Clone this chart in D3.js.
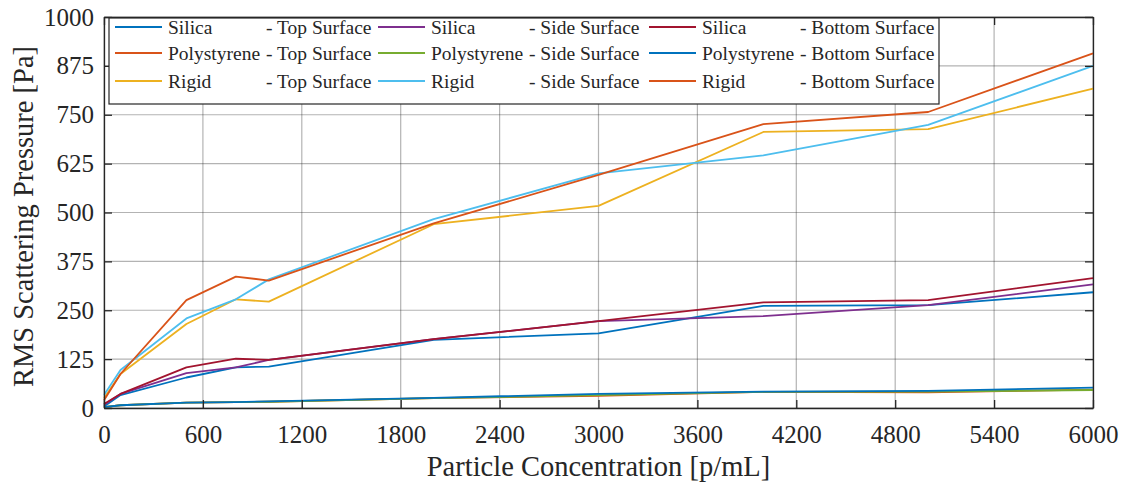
<!DOCTYPE html>
<html><head><meta charset="utf-8">
<script src="https://cdn.jsdelivr.net/npm/d3@7"></script>
<style>body{margin:0;background:#fff}svg{display:block}svg text{font-family:"Liberation Serif","Times New Roman","DejaVu Serif",serif !important;fill:#262626}</style>
</head><body><svg id="c" width="1125" height="486"></svg>
<script>
const concentration = [0, 100, 500, 800, 1000, 2000, 3000, 4000, 5000, 6000];
const xTicks = [0, 600, 1200, 1800, 2400, 3000, 3600, 4200, 4800, 5400, 6000];
const yTicks = [0, 125, 250, 375, 500, 625, 750, 875, 1000];
const materials = ["Silica", "Polystyrene", "Rigid"];
const surfaces = ["Top Surface", "Side Surface", "Bottom Surface"];

const silicaTop     = [4, 33, 78, 104, 106, 174, 191, 261, 263, 296];
const polyTop       = [2, 7, 14, 15, 16, 25, 31, 41, 40, 47];
const rigidTop      = [25, 87, 215, 278, 272, 470, 517, 706, 713, 817];
const silicaSide    = [8, 36, 89, 104, 123, 176, 222, 235, 263, 316];
const polySide      = [2, 7, 14, 15, 16, 25, 33, 41, 42, 46];
const rigidSide     = [33, 97, 229, 278, 329, 483, 600, 646, 724, 875];
const silicaBottom  = [10, 36, 104, 126, 123, 176, 222, 270, 276, 332];
const polyBottom    = [2, 7, 14, 15, 17, 26, 36, 42, 44, 52];
const rigidBottom   = [20, 87, 276, 336, 326, 472, 596, 726, 757, 907];

const colors = ["#0072BD","#D95319","#EDB120","#7E2F8E","#77AC30","#4DBEEE","#A2142F","#0072BD","#D95319"];
const seriesValues = [silicaTop, polyTop, rigidTop, silicaSide, polySide, rigidSide, silicaBottom, polyBottom, rigidBottom];
const series = seriesValues.map((v, i) => ({
  material: materials[i % 3], surface: surfaces[Math.floor(i / 3)], values: v, color: colors[i]
}));

const FONT = '"Liberation Serif", "Times New Roman", serif';
const svg = d3.select("#c");
const L = 104, R = 1093, T = 17, B = 408;
const x = d3.scaleLinear().domain([0, 6000]).range([L, R]);
const y = d3.scaleLinear().domain([0, 1000]).range([B, T]);

// grid
const g = svg.append("g");
g.selectAll(".gx").data(xTicks).join("line")
  .attr("x1", d => x(d)).attr("x2", d => x(d)).attr("y1", T).attr("y2", B)
  .attr("stroke", "#262626").attr("stroke-opacity", 0.35).attr("stroke-width", 1.2);
g.selectAll(".gy").data(yTicks).join("line")
  .attr("y1", d => y(d)).attr("y2", d => y(d)).attr("x1", L).attr("x2", R)
  .attr("stroke", "#262626").attr("stroke-opacity", 0.35).attr("stroke-width", 1.2);

// lines
const line = d3.line().x((d, i) => x(concentration[i])).y(d => y(d));
svg.append("g").selectAll("path").data(series).join("path")
  .attr("d", d => line(d.values)).attr("fill", "none")
  .attr("stroke", d => d.color).attr("stroke-width", 1.8).attr("stroke-linejoin", "round");

// axes
const axB = svg.append("g").attr("transform", `translate(0,${B})`)
  .call(d3.axisBottom(x).tickValues(xTicks).tickSizeInner(-8).tickSizeOuter(0).tickPadding(17).tickFormat(d3.format("d")));
const axL = svg.append("g").attr("transform", `translate(${L},0)`)
  .call(d3.axisLeft(y).tickValues(yTicks).tickSizeInner(-8).tickSizeOuter(0).tickPadding(10).tickFormat(d3.format("d")));
const axT = svg.append("g").attr("transform", `translate(0,${T})`)
  .call(d3.axisTop(x).tickValues(xTicks).tickSizeInner(-8).tickSizeOuter(0).tickFormat(""));
const axR = svg.append("g").attr("transform", `translate(${R},0)`)
  .call(d3.axisRight(y).tickValues(yTicks).tickSizeInner(-8).tickSizeOuter(0).tickFormat(""));
[axB, axL, axT, axR].forEach(a => {
  a.attr("font-family", FONT);
  a.select(".domain").attr("stroke", "#262626").attr("stroke-width", 1.3);
  a.selectAll(".tick line").attr("stroke", "#262626").attr("stroke-width", 1.3);
  a.selectAll(".tick text").attr("font-size", 25).attr("fill", "#262626").attr("font-family", FONT);
});

// axis labels
svg.append("text").attr("x", (L + R) / 2).attr("y", 476).attr("text-anchor", "middle")
  .attr("font-family", FONT).attr("font-size", 28.5).text("Particle Concentration [p/mL]");
svg.append("text").attr("transform", `translate(33,${(T + B) / 2 + 4}) rotate(-90)`).attr("text-anchor", "middle")
  .attr("font-family", FONT).attr("font-size", 28.5).text("RMS Scattering Pressure [Pa]");

// legend
const lg = svg.append("g").attr("font-family", FONT);
lg.append("rect").attr("x", 109).attr("y", 18).attr("width", 830).attr("height", 86)
  .attr("fill", "#fff").attr("stroke", "#262626").attr("stroke-width", 1.2);
const colX = [115, 378, 649];
const suffixOffset = [151, 151, 151];
const rowY = [27, 53, 81];
series.forEach((s, i) => {
  const col = Math.floor(i / 3), row = i % 3;
  const cx = colX[col], cy = rowY[row];
  lg.append("line").attr("x1", cx).attr("x2", cx + 47).attr("y1", cy).attr("y2", cy)
    .attr("stroke", s.color).attr("stroke-width", 1.8);
  lg.append("text").attr("x", cx + 53).attr("y", cy).attr("dy", "0.35em")
    .attr("font-family", FONT).attr("font-size", 19.5).text(s.material);
  lg.append("text").attr("x", cx + suffixOffset[col]).attr("y", cy).attr("dy", "0.35em")
    .attr("font-family", FONT).attr("font-size", 19.5).text("- " + s.surface);
});
</script></body></html>
